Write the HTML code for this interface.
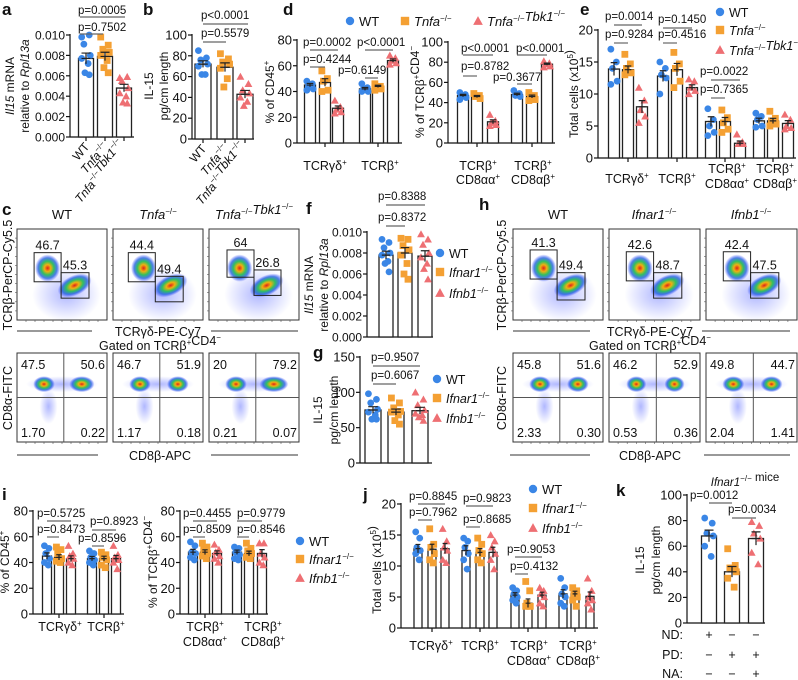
<!DOCTYPE html>
<html><head><meta charset="utf-8"><style>
html,body{margin:0;padding:0;background:#fff}
svg{display:block;font-family:"Liberation Sans",Arial,sans-serif}
</style></head><body>
<svg id="fig" width="798" height="680" viewBox="0 0 798 680" xmlns="http://www.w3.org/2000/svg">
<defs>
<radialGradient id="blob"><stop offset="0" stop-color="#e0201a"/><stop offset="0.25" stop-color="#f0b010"/><stop offset="0.5" stop-color="#30c060"/><stop offset="0.75" stop-color="#2060e0" stop-opacity="0.8"/><stop offset="1" stop-color="#3040ff" stop-opacity="0"/></radialGradient>
<radialGradient id="haze"><stop offset="0" stop-color="#5060ff" stop-opacity="0.45"/><stop offset="1" stop-color="#5060ff" stop-opacity="0"/></radialGradient>
</defs>
</svg>
<script>
// ---------- data ----------
const aMeans=[0.0077,0.0079,0.0048];
const aPts=[[0.0098,0.0100,0.0091,0.0080,0.0077,0.0072,0.0063,0.0061],[0.0098,0.0090,0.0086,0.0083,0.0080,0.0075,0.0068,0.0063],[0.0058,0.0059,0.0055,0.0048,0.0043,0.0040,0.0034,0.0033]];
const aTicks=[0,0.002,0.004,0.006,0.008,0.010];
const bMeans=[72,69,43];
const bPts=[[85,78,76,72,70,62,62],[82,77,74,72,68,58,50],[60,53,47,44,40,36,32]];
const bTicks=[0,20,40,60,80,100];
const dlMeans=[45,47,27,42,44,64];
const dlPts=[[48,46,44,42,41],[56,50,48,41,40],[33,28,26,24,23],[46,43,42,40,40],[46,44,43,42,41],[68,66,64,62,61]];
const dlTicks=[0,20,40,60,80];
const drMeans=[47,46,21,48,46,78];
const drPts=[[50,48,47,45,43],[49,47,46,44],[28,22,20,18,17],[52,49,47,46],[50,47,45,43,42],[81,79,78,76,75]];
const drTicks=[0,20,40,60,80,100];
const eMeans=[13.9,13.8,8,12.8,13.8,11,5.7,5.7,2.3,5.8,5.8,5.4];
const ePts=[[17,15,14,12,11.5],[16.2,14.7,14,13.3,13],[11,9,7.5,6.5,5.5],[15,14,13,12.5,10],[16.5,14.7,14,12,11],[12.3,12,11,10.5,10],[7.7,6,5,4,3.5],[7.5,6.3,5.5,4.5,4],[3.7,2.5,2.2,2.2],[7,6.5,6,5,4.8],[7.3,6.2,5.8,5.3,5],[6.8,6,5,4.7,4.5]];
const eTicks=[0,5,10,15,20];
const fMeans=[0.0078,0.0080,0.0077];
const fPts=[[0.0093,0.0090,0.0085,0.0080,0.0078,0.0072,0.0070,0.0062],[0.0094,0.0093,0.0087,0.0083,0.0078,0.0070,0.0060,0.0055],[0.0098,0.0093,0.0088,0.0080,0.0076,0.0070,0.0065,0.0055]];
const gMeans=[75,72,74];
const gPts=[[98,90,85,76,72,68,62,62],[92,85,78,73,72,68,60,55],[100,90,82,75,70,68,65,60]];
const gTicks=[0,50,100,150];
const ilMeans=[45,44,43,43,43,43];
const ilPts=[[53,51,47,43,40,38],[52,50,47,43,41,40],[53,47,45,43,40,38],[49,47,44,42,40,38],[48,46,44,42,38,36],[53,46,44,42,40,35]];
const irMeans=[48,48,47,48,47,47];
const irPts=[[56,53,48,47,44,42],[55,52,50,47,45,43],[54,50,48,45,43,40],[52,51,48,46,43,42],[55,51,49,47,44,43],[55,55,47,44,40,38]];
const iTicks=[0,20,40,60,80];
const jMeans=[12.8,12.7,12.8,12.5,12.2,12.2,5.3,4,5.3,5.5,5.5,5.1];
const jPts=[[15.5,14.5,13,12.5,12,11],[16,13.5,13,12,11,10.5],[16,14,13,12.5,11,10.5],[14.5,14,13,12,11,9.5],[14.5,13.5,12.5,12,11,10.5],[15,14,13,12,11,9.5],[6.5,6,5.5,5,4.5,4],[7.5,6,4,3.5,3.5,3.5],[6.5,6,5.5,5,4,3.5],[8,6.5,5.5,5,4,3.5],[6.5,6,5.5,5,4.5,3.5],[8,6,5,4.5,4,3]];
const kMeans=[68,40,66];
const kPts=[[82,78,70,68,60,52],[58,45,43,40,35,28],[79,76,70,66,55,46]];
const kTicks=[0,20,40,60,80,100];

// ---------- helpers ----------
const NS="http://www.w3.org/2000/svg";
const svg=document.getElementById('fig');
function mk(tag,attrs,parent){const e=document.createElementNS(NS,tag);for(const k in attrs)e.setAttribute(k,attrs[k]);(parent||svg).appendChild(e);return e;}
function txt(x,y,s,size,anchor,name,extra){const t=mk('text',Object.assign({x:x,y:y,'font-size':size||11,'text-anchor':anchor||'start',fill:'#111'},extra||{}));t.innerHTML=s;


return t;}
const COL=['#3a86e6','#f4a033','#ee6f73'];
const SH=['c','s','t'];
function marker(x,y,k,name,big){let e;const r=big?4.2:3.4;
 if(SH[k]==='c'){e=mk('circle',{cx:x,cy:y,r:r,fill:COL[0]});}
 else if(SH[k]==='s'){e=mk('rect',{x:x-r,y:y-r,width:2*r,height:2*r,fill:COL[1]});}
 else {const q=r*1.15;e=mk('polygon',{points:`${x},${y-q} ${x+q},${y+q*0.8} ${x-q},${y+q*0.8}`,fill:COL[2]});}
 
 
 return e;}
const JIT=[-4,3,-2,4,-4,2,-1,3];
function chart(o){
 const Y=v=>o.y0-(v/o.vmax)*(o.y0-o.ytop);
 const ax=mk('line',{x1:o.ax,x2:o.ax,y1:o.y0,y2:o.ytop-1,stroke:'#111','stroke-width':1.2});
 
 
 const xa=mk('line',{x1:o.ax,x2:o.xend,y1:o.y0,y2:o.y0,stroke:'#111','stroke-width':1.2});
 
 
 o.ticks.forEach(t=>{const y=Y(t);
  const tl=mk('line',{x1:o.ax-4,x2:o.ax,y1:y,y2:y,stroke:'#111','stroke-width':1.2});
  
  
  txt(o.ax-5,y+4.5,o.fmt?o.fmt(t):String(t),o.fs||13,'end',o.name+'-y-tick-label');});
 (o.gticks||[]).forEach(x=>{const g=mk('line',{x1:x,x2:x,y1:o.y0,y2:o.y0+4,stroke:'#111','stroke-width':1.2});
  
  });
 o.means.forEach((m,i)=>{const cx=o.centers[i];const k=o.kind?o.kind[i]:i%3;
  const b=mk('rect',{x:cx-o.bw/2,y:Y(m),width:o.bw,height:o.y0-Y(m),fill:'#fff',stroke:'#222','stroke-width':1.3});
  
  
  const pts=o.pts[i];
  const mean=pts.reduce((a,b)=>a+b,0)/pts.length;
  const sd=Math.sqrt(pts.reduce((a,b)=>a+(b-mean)**2,0)/(pts.length-1))/Math.sqrt(pts.length);
  pts.forEach((p,j)=>marker(cx+JIT[j%8]*o.bw/14,Y(p),k,o.name+'-point'));
  const eb=mk('path',{d:`M${cx},${Y(m-sd)}V${Y(m+sd)}M${cx-o.bw*0.3},${Y(m+sd)}H${cx+o.bw*0.3}M${cx-o.bw*0.3},${Y(m)}H${cx+o.bw*0.3}`,stroke:'#222','stroke-width':1.2,fill:'none'});
  
  
 });
}
function pv(tx,ty,s,x1,x2,ly){txt(tx,ty,s,11.5,'start','p-value');
 const l=mk('line',{x1:x1,x2:x2,y1:ly,y2:ly,stroke:'#666','stroke-width':1.2});
 
 }
function ylab(x,y,s,size){const t=txt(x,y,s,size||12,'middle','y-axis-title',{transform:`rotate(-90 ${x} ${y})`});return t;}
const sup='<tspan font-size="8" dy="-5">−/−</tspan><tspan dy="5"></tspan>';
function it(s){return `<tspan font-style="italic">${s}</tspan>`+sup;}
const sp=(s)=>`<tspan font-size="8" dy="-5">${s}</tspan><tspan dy="5"></tspan>`;
function leg(x,y,k,s,name,fs){marker(x,y-4,k,name+'-marker',true);txt(x+9,y+1,s,fs||13,'start',name+'-entry');}

// ---------- panel letters ----------
[['a',2,15],['b',143,15],['d',283,15],['e',580,15],['c',2,215],['f',306,214],['g',313,358],['h',479,210],['i',2,500],['j',363,500],['k',616,496]].forEach(([l,x,y])=>{txt(x,y,l,17,'start','panel-letter-'+l,{'font-weight':'bold'});});

// ---------- a ----------
chart({name:'a',ax:70,y0:137,ytop:35,vmax:0.010,ticks:aTicks,fmt:v=>v.toFixed(3),fs:12,centers:[86,105,124],bw:15,means:aMeans,pts:aPts,xend:134,gticks:[86,105,124]});
ylab(14,86,`<tspan font-style="italic">Il15</tspan> mRNA`);ylab(29,86,`relative to <tspan font-style="italic">Rpl13a</tspan>`);
pv(78,14,'p=0.0005',80,125,17);pv(78,31,'p=0.7502',80,103,34);
[[86,'WT'],[105,it('Tnfa')],[124,it('Tnfa')+it('Tbk1')]].forEach(([c,s])=>txt(c+4,147,s,12,'end','x-tick-label',{transform:`rotate(-50 ${c+4} 147)`}));
// ---------- b ----------
chart({name:'b',ax:192,y0:139,ytop:35,vmax:100,ticks:bTicks,centers:[203,225,245],bw:16,means:bMeans,pts:bPts,xend:254,gticks:[203,225,245]});
ylab(153,86,'IL-15');ylab(168,86,'pg/cm length');
pv(201,19,'p&lt;0.0001',203,248,24);pv(201,37,'p=0.5579',203,226,42);
[[203,'WT'],[225,it('Tnfa')],[245,it('Tnfa')+it('Tbk1')]].forEach(([c,s])=>txt(c+4,149,s,12,'end','x-tick-label',{transform:`rotate(-50 ${c+4} 149)`}));
// ---------- d ----------
leg(350,25,0,'WT','d-legend');
leg(405,25,1,it('Tnfa'),'d-legend');
leg(478,25,2,it('Tnfa')+it('Tbk1'),'d-legend');
chart({name:'d-left',ax:297,y0:143,ytop:40,vmax:80,ticks:dlTicks,centers:[310,325,338,365,378,393],bw:11,means:dlMeans,pts:dlPts,xend:402,gticks:[325,378]});
ylab(274,92,'% of CD45'+sp('+'));
txt(325,170,'TCRγδ'+sp('+'),12.5,'middle','x-tick-label');txt(380,170,'TCRβ'+sp('+'),12.5,'middle','x-tick-label');
pv(303,46,'p=0.0002',310,338,50);pv(303,63,'p=0.4244',310,325,67);pv(357,46,'p&lt;0.0001',365,393,50);pv(338,74,'p=0.6149',365,378,78);
chart({name:'d-right',ax:448,y0:143,ytop:42,vmax:100,ticks:drTicks,centers:[463,477,493,517,532,547],bw:11,means:drMeans,pts:drPts,xend:555,gticks:[477,532]});
ylab(424,92,'% of TCRβ'+sp('+')+'CD4'+sp('−'));
txt(478,170,'TCRβ'+sp('+'),12.5,'middle','x-tick-label');txt(478,184,'CD8αα'+sp('+'),12.5,'middle','x-tick-label');
txt(533,170,'TCRβ'+sp('+'),12.5,'middle','x-tick-label');txt(533,184,'CD8αβ'+sp('+'),12.5,'middle','x-tick-label');
pv(461,52,'p&lt;0.0001',463,493,55);pv(461,70,'p=0.8782',463,477,76);pv(516,52,'p&lt;0.0001',517,547,55);pv(493,81,'p=0.3677',517,532,84);
// ---------- e ----------
chart({name:'e',ax:598,y0:158,ytop:30,vmax:20,ticks:eTicks,centers:[614,628,642,663,677,692,711,725,740,759,773,788],bw:11,means:eMeans,pts:ePts,xend:796,gticks:[628,677,725,773]});
ylab(578,94,'Total cells (x10'+sp('5')+')');
txt(627,183,'TCRγδ'+sp('+'),12.5,'middle','x-tick-label');txt(677,183,'TCRβ'+sp('+'),12.5,'middle','x-tick-label');
txt(727,173,'TCRβ'+sp('+'),12.5,'middle','x-tick-label');txt(727,188,'CD8αα'+sp('+'),12.5,'middle','x-tick-label');
txt(775,173,'TCRβ'+sp('+'),12.5,'middle','x-tick-label');txt(775,188,'CD8αβ'+sp('+'),12.5,'middle','x-tick-label');
pv(605,20,'p=0.0014',614,642,25);pv(605,38,'p=0.9284',614,628,43);pv(658,23,'p=0.1450',663,692,28);pv(658,38,'p=0.4516',663,677,43);pv(700,75,'p=0.0022',711,740,80);pv(700,93,'p=0.7365',711,725,98);
leg(720,16,0,'WT','e-legend',12.5);
leg(720,34,1,it('Tnfa'),'e-legend',12.5);
leg(720,54,2,it('Tnfa')+it('Tbk1'),'e-legend',12.5);

// ---------- flow plots ----------
function flowTop(x,y,w,h,b1,b2,n1,n2,name){
 const g=mk('g',{});
 mk('ellipse',{cx:x+w*0.55,cy:y+h*0.72,rx:w*0.38,ry:h*0.3,fill:'url(#haze)'},g);
 mk('ellipse',{cx:x+w*0.34,cy:y+h*0.43,rx:w*0.14,ry:h*0.15,fill:'url(#blob)'},g);
 mk('ellipse',{cx:x+w*0.64,cy:y+h*0.62,rx:w*0.2,ry:h*0.11,fill:'url(#blob)',transform:`rotate(-25 ${x+w*0.64} ${y+h*0.62})`},g);
 mk('rect',{x:x,y:y,width:w,height:h,fill:'none',stroke:'#333','stroke-width':1},g);
 mk('rect',{x:x+w*b1[0],y:y+h*b1[1],width:w*(b1[2]-b1[0]),height:h*(b1[3]-b1[1]),fill:'none',stroke:'#222','stroke-width':1},g);
 mk('rect',{x:x+w*b2[0],y:y+h*b2[1],width:w*(b2[2]-b2[0]),height:h*(b2[3]-b2[1]),fill:'none',stroke:'#222','stroke-width':1},g);
 txt(x+w*(b1[0]+b1[2])/2,y+h*b1[1]-3,n1,12.5,'middle','gate-value');
 txt(x+w*(b2[0]+b2[2])/2,y+h*b2[1]-3,n2,12.5,'middle','gate-value');
 for(let i=1;i<10;i++){mk('line',{x1:x+w*i/10,x2:x+w*i/10,y1:y+h,y2:y+h+2,stroke:'#555','stroke-width':0.6},g);mk('line',{x1:x-2,x2:x,y1:y+h*i/10,y2:y+h*i/10,stroke:'#555','stroke-width':0.6},g);}
}
function flowBot(x,y,w,h,vals,c1,c2,name){
 const g=mk('g',{});
 mk('ellipse',{cx:x+w*0.35,cy:y+h*0.6,rx:w*0.1,ry:h*0.2,fill:'url(#haze)'},g);
 mk('ellipse',{cx:x+w*0.5,cy:y+h*0.35,rx:w*0.4,ry:h*0.09,fill:'url(#haze)'},g);
 mk('ellipse',{cx:x+w*0.3,cy:y+h*0.35,rx:w*(c1+0.02),ry:h*0.09,fill:'url(#blob)'},g);
 mk('ellipse',{cx:x+w*0.72,cy:y+h*0.35,rx:w*(c2+0.02),ry:h*0.09,fill:'url(#blob)'},g);
 mk('rect',{x:x,y:y,width:w,height:h,fill:'none',stroke:'#333','stroke-width':1},g);
 mk('line',{x1:x+w*0.52,x2:x+w*0.52,y1:y,y2:y+h,stroke:'#555','stroke-width':1},g);
 mk('line',{x1:x,x2:x+w,y1:y+h*0.5,y2:y+h*0.5,stroke:'#555','stroke-width':1},g);
 txt(x+4,y+16,vals[0],12.5,'start','quadrant-value');txt(x+w-2,y+16,vals[1],12.5,'end','quadrant-value');
 txt(x+4,y+h-5,vals[2],12.5,'start','quadrant-value');txt(x+w-2,y+h-5,vals[3],12.5,'end','quadrant-value');
 for(let i=1;i<10;i++){mk('line',{x1:x+w*i/10,x2:x+w*i/10,y1:y+h,y2:y+h+2,stroke:'#555','stroke-width':0.6},g);}
}
const B1=[0.19,0.26,0.49,0.58],B2=[0.49,0.48,0.8,0.76];
// c
[[17,'WT'],[113,it('Tnfa')],[209,it('Tnfa')+it('Tbk1')]].forEach(([x,s])=>txt(x+45,219,s,13,'middle','flow-column-title'));
flowTop(17,229,90,91,B1,B2,'46.7','45.3','c-flow-wt');
flowTop(113,229,90,91,[0.17,0.26,0.47,0.58],[0.47,0.52,0.78,0.8],'44.4','49.4','c-flow-tnfa');
flowTop(209,229,90,91,[0.2,0.23,0.5,0.53],[0.5,0.45,0.8,0.73],'64','26.8','c-flow-dko');
flowBot(17,353,90,89,['47.5','50.6','1.70','0.22'],0.1,0.12,'c-flow-cd8-wt');
flowBot(113,353,90,89,['46.7','51.9','1.17','0.18'],0.1,0.1,'c-flow-cd8-tnfa');
flowBot(209,353,90,89,['20','79.2','0.21','0.07'],0.1,0.14,'c-flow-cd8-dko');
ylab(12,275,'TCRβ-PerCP-Cy5.5',12.5);ylab(12,398,'CD8α-FITC',12.5);
txt(158,336,'TCRγδ-PE-Cy7',12.5,'middle','x-axis-title');txt(160,350,'Gated on TCRβ'+sp('+')+'CD4'+sp('−'),12.5,'middle','gate-title');txt(160,460,'CD8β-APC',12.5,'middle','x-axis-title');
[[17,92,331],[211,298,331],[17,98,455],[211,298,455]].forEach(([a,b,y])=>{const l=mk('line',{x1:a,x2:b,y1:y,y2:y,stroke:'#333','stroke-width':1});});
// h
[[513,'WT'],[609,it('Ifnar1')],[706,it('Ifnb1')]].forEach(([x,s])=>txt(x+45,219,s,13,'middle','flow-column-title'));
flowTop(513,229,90,91,[0.19,0.23,0.49,0.55],[0.49,0.48,0.8,0.78],'41.3','49.4','h-flow-wt');
flowTop(609,229,91,91,[0.19,0.25,0.49,0.57],[0.49,0.48,0.8,0.76],'42.6','48.7','h-flow-ifnar1');
flowTop(706,229,91,91,[0.19,0.25,0.49,0.57],[0.49,0.48,0.8,0.76],'42.4','47.5','h-flow-ifnb1');
flowBot(513,353,90,89,['45.8','51.6','2.33','0.30'],0.1,0.1,'h-flow-cd8-wt');
flowBot(609,353,91,89,['46.2','52.9','0.53','0.36'],0.09,0.09,'h-flow-cd8-ifnar1');
flowBot(706,353,91,89,['49.8','44.7','2.04','1.41'],0.1,0.1,'h-flow-cd8-ifnb1');
ylab(506,275,'TCRβ-PerCP-Cy5.5',12.5);ylab(506,398,'CD8α-FITC',12.5);
txt(650,336,'TCRγδ-PE-Cy7',12.5,'middle','x-axis-title');txt(650,350,'Gated on TCRβ'+sp('+')+'CD4'+sp('−'),12.5,'middle','gate-title');txt(650,460,'CD8β-APC',12.5,'middle','x-axis-title');
[[513,590,331],[702,790,331],[510,590,455],[704,790,455]].forEach(([a,b,y])=>{const l=mk('line',{x1:a,x2:b,y1:y,y2:y,stroke:'#333','stroke-width':1});});

// ---------- f ----------
chart({name:'f',ax:367,y0:337,ytop:232,vmax:0.010,ticks:aTicks,fmt:v=>v.toFixed(3),fs:12,centers:[386,405,425],bw:14,means:fMeans,pts:fPts,xend:433,gticks:[]});
ylab(313,285,`<tspan font-style="italic">Il15</tspan> mRNA`);ylab(328,285,`relative to <tspan font-style="italic">Rpl13a</tspan>`);
pv(378,200,'p=0.8388',386,425,205);pv(378,221,'p=0.8372',386,405,226);
leg(440,257,0,'WT','f-legend',12.5);
leg(440,276,1,it('Ifnar1'),'f-legend',12.5);
leg(440,297,2,it('Ifnb1'),'f-legend',12.5);
// ---------- g ----------
chart({name:'g',ax:360,y0:463,ytop:357,vmax:150,ticks:gTicks,centers:[373,396,420],bw:16,means:gMeans,pts:gPts,xend:432,gticks:[]});
ylab(322,410,'IL-15');ylab(338,410,'pg/cm length');
pv(371,361,'p=0.9507',373,420,366);pv(371,379,'p=0.6067',373,396,384);
leg(437,383,0,'WT','g-legend',12.5);
leg(437,402,1,it('Ifnar1'),'g-legend',12.5);
leg(437,422,2,it('Ifnb1'),'g-legend',12.5);
// ---------- i ----------
chart({name:'i-left',ax:33,y0:614,ytop:511,vmax:80,ticks:iTicks,centers:[47,59,71,92,104,116],bw:9,means:ilMeans,pts:ilPts,xend:124,gticks:[59,104]});
ylab(9,562,'% of CD45'+sp('+'));
txt(60,631,'TCRγδ'+sp('+'),12.5,'middle','x-tick-label');txt(106,631,'TCRβ'+sp('+'),12.5,'middle','x-tick-label');
pv(37,517,'p=0.5725',47,71,521);pv(37,533,'p=0.8473',47,59,537);pv(90,525,'p=0.8923',92,116,530);pv(78,542,'p=0.8596',92,104,546);
chart({name:'i-right',ax:180,y0:614,ytop:511,vmax:80,ticks:iTicks,centers:[193,205,217,237,249,262],bw:9,means:irMeans,pts:irPts,xend:268,gticks:[205,249]});
ylab(157,562,'% of TCRβ'+sp('+')+'CD4'+sp('−'));
txt(205,631,'TCRβ'+sp('+'),12.5,'middle','x-tick-label');txt(205,646,'CD8αα'+sp('+'),12.5,'middle','x-tick-label');
txt(263,631,'TCRβ'+sp('+'),12.5,'middle','x-tick-label');txt(263,646,'CD8αβ'+sp('+'),12.5,'middle','x-tick-label');
pv(183,517,'p=0.4455',193,217,521);pv(183,533,'p=0.8509',193,205,537);pv(237,517,'p=0.9779',237,262,521);pv(237,533,'p=0.8546',237,249,537);
leg(300,545,0,'WT','i-legend');
leg(300,563,1,it('Ifnar1'),'i-legend');
leg(300,582,2,it('Ifnb1'),'i-legend');
// ---------- j ----------
chart({name:'j',ax:401,y0:628,ytop:504,vmax:20,ticks:eTicks,centers:[418,432,445,466,480,493,515,528,542,563,575,590],bw:8,means:jMeans,pts:jPts,xend:598,gticks:[432,480,528,575]});
ylab(381,570,'Total cells (x10'+sp('5')+')');
txt(431,650,'TCRγδ'+sp('+'),12.5,'middle','x-tick-label');txt(480,650,'TCRβ'+sp('+'),12.5,'middle','x-tick-label');
txt(529,650,'TCRβ'+sp('+'),12.5,'middle','x-tick-label');txt(529,665,'CD8αα'+sp('+'),12.5,'middle','x-tick-label');
txt(578,650,'TCRβ'+sp('+'),12.5,'middle','x-tick-label');txt(578,665,'CD8αβ'+sp('+'),12.5,'middle','x-tick-label');
pv(409,500,'p=0.8845',418,445,504);pv(409,516,'p=0.7962',418,432,520);pv(463,502,'p=0.9823',466,493,506);pv(463,523,'p=0.8685',466,480,527);pv(507,553,'p=0.9053',515,542,557);pv(510,570,'p=0.4132',515,528,574);
leg(533,493,0,'WT','j-legend');
leg(533,512,1,it('Ifnar1'),'j-legend');
leg(533,532,2,it('Ifnb1'),'j-legend');
// ---------- k ----------
txt(745,486,it('Ifnar1')+' mice',11.5,'middle','k-title');
chart({name:'k',ax:687,y0:623,ytop:495,vmax:100,ticks:kTicks,centers:[709,732,756],bw:15,means:kMeans,pts:kPts,xend:765,gticks:[]});
ylab(644,560,'IL-15');ylab(660,560,'pg/cm length');
pv(690,499,'p=0.0012',709,732,503);pv(728,513,'p=0.0034',732,756,518);
[['ND:',['+','−','−'],639],['PD:',['−','+','+'],659],['NA:',['−','−','+'],678]].forEach(([l,v,y])=>{txt(683,y,l,12.5,'end','treatment-label');v.forEach((s,i)=>txt([709,732,756][i],y,s,12.5,'middle','treatment-sign'));});
</script>
</body></html>
